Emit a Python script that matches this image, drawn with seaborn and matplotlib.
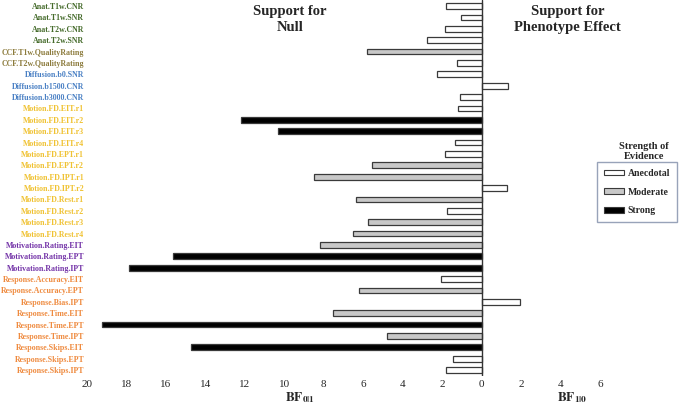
import numpy as np
import pandas as pd
import seaborn as sns
import matplotlib.pyplot as plt
from matplotlib.patches import Patch


MEASURES = [
    "Anat.T1w.CNR", "Anat.T1w.SNR", "Anat.T2w.CNR", "Anat.T2w.SNR",
    "CCF.T1w.QualityRating", "CCF.T2w.QualityRating",
    "Diffusion.b0.SNR", "Diffusion.b1500.CNR", "Diffusion.b3000.CNR",
    "Motion.FD.EIT.r1", "Motion.FD.EIT.r2", "Motion.FD.EIT.r3", "Motion.FD.EIT.r4",
    "Motion.FD.EPT.r1", "Motion.FD.EPT.r2", "Motion.FD.IPT.r1", "Motion.FD.IPT.r2",
    "Motion.FD.Rest.r1", "Motion.FD.Rest.r2", "Motion.FD.Rest.r3", "Motion.FD.Rest.r4",
    "Motivation.Rating.EIT", "Motivation.Rating.EPT", "Motivation.Rating.IPT",
    "Response.Accuracy.EIT", "Response.Accuracy.EPT", "Response.Bias.IPT",
    "Response.Time.EIT", "Response.Time.EPT", "Response.Time.IPT",
    "Response.Skips.EIT", "Response.Skips.EPT", "Response.Skips.IPT",
]

# Bayes factor magnitude and direction ("null" -> BF01 plotted left, "effect" -> BF10 right)
BF = [
    1.81, 1.06, 1.86, 2.78,
    5.82, 1.27,
    2.24, 1.35, 1.11,
    1.22, 12.2, 10.33, 1.37,
    1.87, 5.57, 8.49, 1.30,
    6.38, 1.74, 5.77, 6.53,
    8.20, 15.65, 17.87,
    2.08, 6.23, 1.96,
    7.53, 19.26, 4.81,
    14.74, 1.43, 1.82,
]
DIRECTION = [
    "null", "null", "null", "null",
    "null", "null",
    "null", "effect", "null",
    "null", "null", "null", "null",
    "null", "null", "null", "effect",
    "null", "null", "null", "null",
    "null", "null", "null",
    "null", "null", "effect",
    "null", "null", "null",
    "null", "null", "null",
]
STRENGTH = [
    "Anecdotal", "Anecdotal", "Anecdotal", "Anecdotal",
    "Moderate", "Anecdotal",
    "Anecdotal", "Anecdotal", "Anecdotal",
    "Anecdotal", "Strong", "Strong", "Anecdotal",
    "Anecdotal", "Moderate", "Moderate", "Anecdotal",
    "Moderate", "Anecdotal", "Moderate", "Moderate",
    "Moderate", "Strong", "Strong",
    "Anecdotal", "Moderate", "Anecdotal",
    "Moderate", "Strong", "Moderate",
    "Strong", "Anecdotal", "Anecdotal",
]

GROUP_COLORS = {
    "Anat": "#456b2b",
    "CCF": "#8c7b3c",
    "Diffusion": "#4a80c4",
    "Motion": "#f0c232",
    "Motivation": "#7434a8",
    "Response": "#ef8a3e",
}
STRENGTH_COLORS = {"Anecdotal": "#ffffff", "Moderate": "#c8c8c8", "Strong": "#000000"}
XTICKS = list(range(-20, 7, 2))

df = pd.DataFrame({
    "measure": MEASURES,
    "bf": BF,
    "direction": DIRECTION,
    "strength": STRENGTH,
})
df["value"] = np.where(df["direction"] == "null", -df["bf"], df["bf"])

sns.set_style("white")
plt.rcParams["font.family"] = ["Liberation Serif", "DejaVu Serif"]
plt.rcParams["mathtext.fontset"] = "stix"

fig = plt.figure(figsize=(6.85, 4.08), dpi=100)
ax = fig.add_axes([0.127, 0.079, 0.749, 0.92])

sns.barplot(
    data=df, x="value", y="measure", hue="strength",
    hue_order=["Anecdotal", "Moderate", "Strong"],
    palette=STRENGTH_COLORS, dodge=False, width=0.5,
    edgecolor="#3a3a3a", linewidth=0.9, legend=False, ax=ax,
)

ax.axvline(0, color="#333333", linewidth=1.0)
ax.set_xlim(-20, 6)
ax.set_ylim(len(MEASURES) - 0.5, -0.5)
ax.set_xticks(XTICKS)
ax.set_xticklabels([str(abs(t)) for t in XTICKS], fontsize=8)
ax.tick_params(axis="x", length=0, pad=3)
ax.tick_params(axis="y", length=0, pad=2)
ax.set_xlabel("")
ax.set_ylabel("")
for side in ["left", "right", "top", "bottom"]:
    ax.spines[side].set_visible(False)

for lbl in ax.get_yticklabels():
    name = lbl.get_text()
    lbl.set_color(GROUP_COLORS[name.split(".")[0]])
    lbl.set_fontweight("bold")
    lbl.set_fontsize(5.7)

fig.text(0.423, 0.952, "Support for\nNull", ha="center", va="center",
         fontsize=10.5, fontweight="bold", linespacing=1.3)
fig.text(0.829, 0.952, "Support for\nPhenotype Effect", ha="center", va="center",
         fontsize=10.5, fontweight="bold", linespacing=1.3)
fig.text(0.438, 0.017, r"$\mathbf{BF}_{\mathbf{0|1}}$", ha="center", va="baseline", fontsize=9.5)
fig.text(0.836, 0.017, r"$\mathbf{BF}_{\mathbf{1|0}}$", ha="center", va="baseline", fontsize=9.5)

handles = [
    Patch(facecolor=STRENGTH_COLORS[s], edgecolor="#3a3a3a", linewidth=0.8, label=s)
    for s in ["Anecdotal", "Moderate", "Strong"]
]
leg = fig.legend(
    handles=handles, loc="upper left", bbox_to_anchor=(0.872, 0.603),
    frameon=True, fancybox=False, edgecolor="#7f8ca8",
    prop={"weight": "bold", "size": 7, "family": "Liberation Serif"},
    handlelength=2.0, handleheight=0.5, labelspacing=1.0,
    borderpad=0.7, handletextpad=0.4, borderaxespad=0.0,
)
leg.get_frame().set_linewidth(1.0)
fig.text(0.94, 0.628, "Strength of\nEvidence", ha="center", va="center",
         fontsize=7.5, fontweight="bold", linespacing=1.2)

fig.savefig("out.png", dpi=100)
